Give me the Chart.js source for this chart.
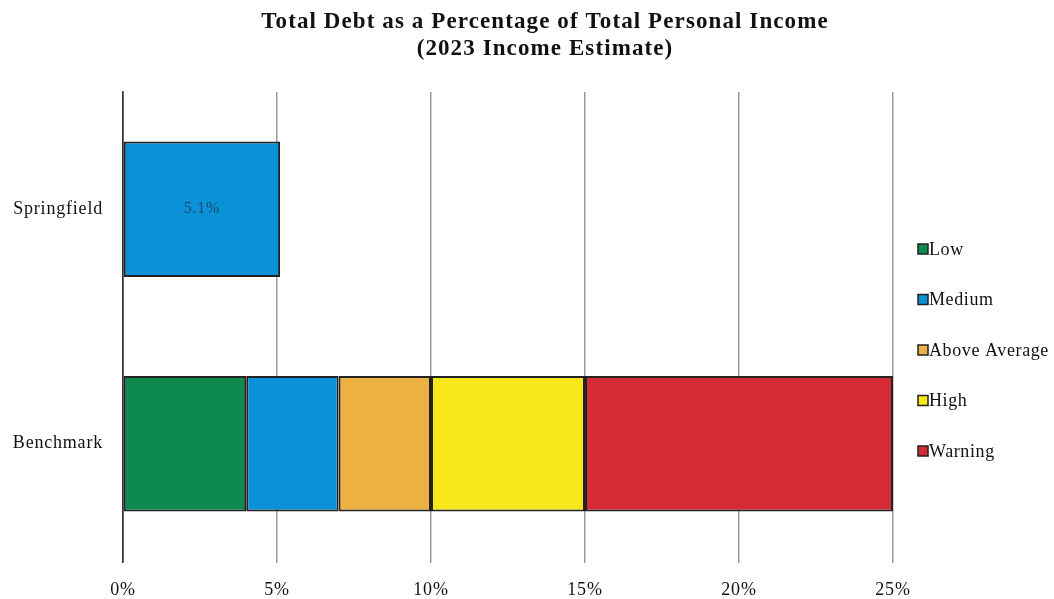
<!DOCTYPE html>
<html>
<head>
<meta charset="utf-8">
<script src="https://cdn.jsdelivr.net/npm/chart.js@4.4.1/dist/chart.umd.min.js"></script>
<style>
  html, body { margin: 0; background: #fff; }
</style>
</head>
<body>
<canvas id="chart" width="1054" height="599"></canvas>
<script>
const categories = ["Springfield", "Benchmark"];
const levels = ["Low", "Medium", "Above Average", "High", "Warning"];
const lowValues = [null, 4];
const mediumValues = [5.1, 3];
const aboveAverageValues = [null, 3];
const highValues = [null, 5];
const warningValues = [null, 10];
const xTicks = [0, 5, 10, 15, 20, 25];
const titleLines = ["Total Debt as a Percentage of Total Personal Income", "(2023 Income Estimate)"];
const colors = ["#0e8a4f", "#0a91d7", "#ecb142", "#f7e81c", "#d42b37"];

const serif = "'Liberation Serif', 'Times New Roman', serif";

const series = [lowValues, mediumValues, aboveAverageValues, highValues, warningValues];

// the scanned original is a bit wider than plain Times
const spacing = {
  id: "spacing",
  beforeLayout(chart) { chart.ctx.letterSpacing = "0.8px"; },
  beforeDraw(chart) { chart.ctx.letterSpacing = "0.8px"; }
};

// title centred over the plot + legend
const topTitle = {
  id: "topTitle",
  afterDraw(chart) {
    const ctx = chart.ctx;
    ctx.save();
    ctx.font = "bold 23px " + serif;
    ctx.letterSpacing = "1.1px";
    ctx.fillStyle = "#111";
    ctx.textAlign = "center";
    ctx.textBaseline = "alphabetic";
    ctx.fillText(titleLines[0], 545, 28);
    ctx.fillText(titleLines[1], 545, 55);
    ctx.restore();
  }
};

// label inside the Springfield bar
const valueLabel = {
  id: "valueLabel",
  afterDatasetsDraw(chart) {
    const ctx = chart.ctx;
    const bar = chart.getDatasetMeta(1).data[0];
    ctx.save();
    ctx.font = "16px " + serif;
    ctx.letterSpacing = "0.8px";
    ctx.fillStyle = "#1c4868";
    ctx.textAlign = "center";
    ctx.textBaseline = "middle";
    ctx.fillText(mediumValues[0].toFixed(1) + "%", (bar.x + bar.base) / 2, bar.y);
    ctx.restore();
  }
};

// legend on the right, drawn by hand to keep it tight
const sideLegend = {
  id: "sideLegend",
  afterDraw(chart) {
    const ctx = chart.ctx;
    const area = chart.chartArea;
    const step = 50.5;
    const x = area.right + 25;
    const y0 = (area.top + area.bottom) / 2 + 23.5 - step * 2;
    ctx.save();
    ctx.font = "18px " + serif;
    ctx.letterSpacing = "0.6px";
    ctx.textBaseline = "middle";
    levels.forEach((name, i) => {
      const y = y0 + i * step;
      ctx.fillStyle = colors[i];
      ctx.fillRect(x, y - 5, 10, 10);
      ctx.strokeStyle = "#222";
      ctx.lineWidth = 1.5;
      ctx.strokeRect(x, y - 5, 10, 10);
      ctx.fillStyle = "#111";
      ctx.fillText(name, x + 11, y + 1);
    });
    ctx.restore();
  }
};

new Chart(document.getElementById("chart"), {
  type: "bar",
  data: {
    labels: categories,
    datasets: levels.map((name, i) => ({
      label: name,
      data: series[i],
      backgroundColor: colors[i],
      borderColor: "#222",
      borderWidth: 2,
      borderSkipped: false,
      barPercentage: 0.578,
      categoryPercentage: 1
    }))
  },
  options: {
    indexAxis: "y",
    responsive: false,
    animation: false,
    layout: { padding: { left: 0, right: 161, top: 92, bottom: 0 } },
    plugins: {
      legend: { display: false },
      tooltip: { enabled: false },
      title: { display: false }
    },
    scales: {
      x: {
        stacked: true,
        min: 0,
        max: 25,
        afterBuildTicks: axis => { axis.ticks = xTicks.map(v => ({ value: v })); },
        afterFit: axis => { axis.height = 38; },
        ticks: {
          color: "#111",
          font: { family: serif, size: 18 },
          padding: 16,
          callback: v => v + "%"
        },
        grid: {
          color: ctx => (ctx.tick && ctx.tick.value === 0 ? "#333" : "#9c9c9c"),
          lineWidth: 1.5,
          tickLength: 2
        },
        border: { display: false }
      },
      y: {
        stacked: true,
        afterFit: axis => { axis.width = 123; },
        ticks: {
          color: "#111",
          font: { family: serif, size: 18 },
          padding: 12
        },
        grid: { display: false },
        border: { color: "#333", width: 1.5 }
      }
    }
  },
  plugins: [spacing, topTitle, valueLabel, sideLegend]
});
</script>
</body>
</html>
